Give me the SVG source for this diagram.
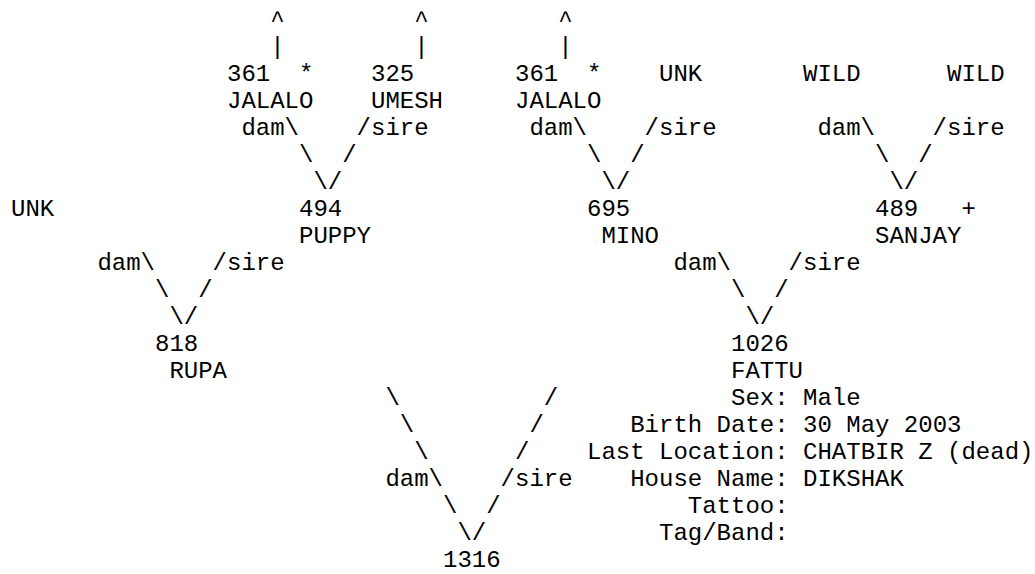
<svg xmlns="http://www.w3.org/2000/svg" width="1035" height="574" viewBox="0 0 1035 574">
<style>
text{font-family:"Liberation Mono","Courier New",monospace;font-size:24px;fill:#000}
</style>
<rect width="1035" height="574" fill="#fff"/>
<g id="connectors">
<text x="270.2" y="27">^</text><text x="414.2" y="27">^</text><text x="558.2" y="27">^</text>
<text x="270.2" y="54">|</text><text x="414.2" y="54">|</text><text x="558.2" y="54">|</text>
<text x="241.4" y="135">dam\</text><text x="356.6" y="135">/sire</text>
<text x="529.4" y="135">dam\</text><text x="644.6" y="135">/sire</text>
<text x="817.4" y="135">dam\</text><text x="932.6" y="135">/sire</text>
<text x="299" y="162">\</text><text x="342.2" y="162">/</text>
<text x="587" y="162">\</text><text x="630.2" y="162">/</text>
<text x="875" y="162">\</text><text x="918.2" y="162">/</text>
<text x="313.4" y="189">\/</text><text x="601.4" y="189">\/</text><text x="889.4" y="189">\/</text>
<text x="97.4" y="270">dam\</text><text x="212.6" y="270">/sire</text>
<text x="673.4" y="270">dam\</text><text x="788.6" y="270">/sire</text>
<text x="155" y="297">\</text><text x="198.2" y="297">/</text>
<text x="731" y="297">\</text><text x="774.2" y="297">/</text>
<text x="169.4" y="324">\/</text><text x="745.4" y="324">\/</text>
<text x="385.4" y="405">\</text><text x="543.8" y="405">/</text>
<text x="399.8" y="432">\</text><text x="529.4" y="432">/</text>
<text x="414.2" y="459">\</text><text x="515" y="459">/</text>
<text x="385.4" y="486">dam\</text><text x="500.6" y="486">/sire</text>
<text x="443" y="513">\</text><text x="486.2" y="513">/</text>
<text x="457.4" y="540">\/</text>
</g>
<g id="n361a"><text x="227" y="81">361</text><text x="299" y="81">*</text><text x="227" y="108">JALALO</text></g>
<g id="n325"><text x="371" y="81">325</text><text x="371" y="108">UMESH</text></g>
<g id="n361b"><text x="515" y="81">361</text><text x="587" y="81">*</text><text x="515" y="108">JALALO</text></g>
<g id="nUNK1"><text x="659" y="81">UNK</text></g>
<g id="nWILD1"><text x="803" y="81">WILD</text></g>
<g id="nWILD2"><text x="947" y="81">WILD</text></g>
<g id="nUNK0"><text x="11" y="216">UNK</text></g>
<g id="n494"><text x="299" y="216">494</text><text x="299" y="243">PUPPY</text></g>
<g id="n695"><text x="587" y="216">695</text><text x="601.4" y="243">MINO</text></g>
<g id="n489"><text x="875" y="216">489</text><text x="961.4" y="216">+</text><text x="875" y="243">SANJAY</text></g>
<g id="n818"><text x="155" y="351">818</text><text x="169.4" y="378">RUPA</text></g>
<g id="n1026"><text x="731" y="351">1026</text><text x="731" y="378">FATTU</text></g>
<g id="n1316"><text x="443" y="567">1316</text></g>
<g id="info">
<text x="731" y="405">Sex: Male</text>
<text x="630.2" y="432">Birth Date: 30 May 2003</text>
<text x="587" y="459">Last Location: CHATBIR Z (dead)</text>
<text x="630.2" y="486">House Name: DIKSHAK</text>
<text x="687.8" y="513">Tattoo:</text>
<text x="659" y="540">Tag/Band:</text>
</g>
</svg>
